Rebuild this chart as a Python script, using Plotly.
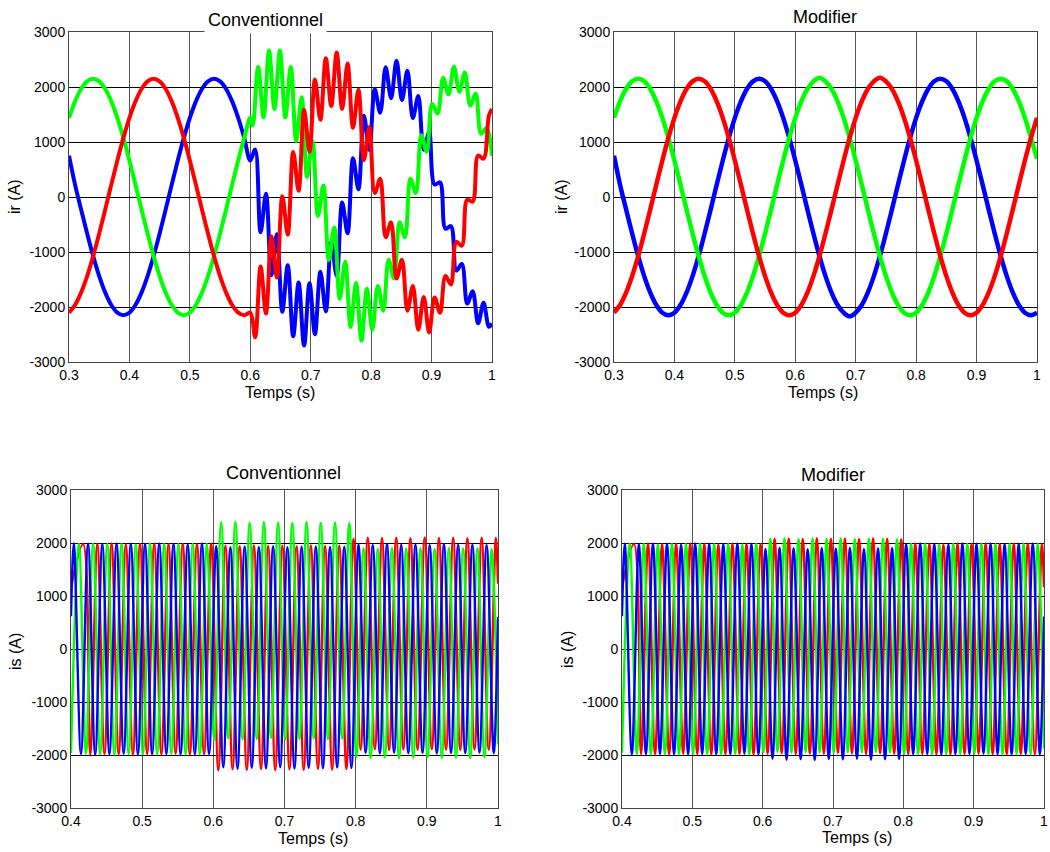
import numpy as np
import plotly.graph_objects as go

# ---------------- Rotor currents ir (top row) ----------------
# sampling instants of the smooth curves (every 10 ms from 0.30 s to 1.00 s)
ir_t = np.round(np.arange(0.30, 1.0001, 0.01), 3)

ir_mod_green = [1439, 1739, 1964, 2103,
                2150, 2103, 1964, 1739, 1439, 1075, 664, 225, -225, -664, -1075, -1439, -1739, -1964, -2103,
                -2150, -2103, -1964, -1739, -1439, -1075, -664, -225, 225, 664, 1075, 1439, 1739, 1964, 2103,
                2170, 2103, 1964, 1739, 1439, 1075, 664, 225, -225, -664, -1075, -1439, -1739, -1964, -2103,
                -2150, -2103, -1964, -1739, -1439, -1075, -664, -225, 225, 664, 1075, 1439, 1739, 1964, 2103,
                2150, 2103, 1964, 1739, 1439, 1075, 700]
ir_mod_red = [-2103, -1964, -1739, -1439, -1075, -664, -225, 225, 664, 1075, 1439, 1739, 1964, 2103,
              2150, 2103, 1964, 1739, 1439, 1075, 664, 225, -225, -664, -1075, -1439, -1739, -1964, -2103,
              -2150, -2103, -1964, -1739, -1439, -1075, -664, -225, 225, 664, 1075, 1439, 1739, 1964, 2103,
              2170, 2103, 1964, 1739, 1439, 1075, 664, 225, -225, -664, -1075, -1439, -1739, -1964, -2103,
              -2150, -2103, -1964, -1739, -1439, -1075, -664, -225, 225, 664, 1075, 1439]
ir_mod_blue = [750, 225, -225, -664, -1075, -1439, -1739, -1964, -2103,
               -2150, -2103, -1964, -1739, -1439, -1075, -664, -225, 225, 664, 1075, 1439, 1739, 1964, 2103,
               2150, 2103, 1964, 1739, 1439, 1075, 664, 225, -225, -664, -1075, -1439, -1739, -1964, -2103,
               -2170, -2103, -1964, -1739, -1439, -1075, -664, -225, 225, 664, 1075, 1439, 1739, 1964, 2103,
               2150, 2103, 1964, 1739, 1439, 1075, 664, 225, -225, -664, -1075, -1439, -1739, -1964, -2103,
               -2150, -2103]

# conventional control: identical before 0.6 s, then rippled (values at the ripple crests)
ir_t_pre = ir_t[:31]
ir_t_green_post = list(np.round(0.604 + 0.009 * np.arange(44), 3)) + [1.0]
ir_t_rb_post = list(np.round(0.608 + 0.009 * np.arange(44), 3)) + [1.0]

ir_conv_green_post = [1300, 2365, 1449, 2662, 1600, 2662, 1449, 2365, 1017, 1814, 365, 1015, -345, 211,
                      -1144, -556, -1850, -1176, -2363, -1565, -2613, -1666, -2413, -1616, -2069, -1142,
                      -1482, -461, -733, 330, 73, 1121, 822, 1692, 1519, 2166, 1863, 2366, 1913, 2265,
                      1663, 1876, 1150, 1256, 750]
ir_conv_red_post = [-2549, -1265, -2117, -714, -1465, 15, -685, 819, 114, 1586, 820, 2136, 1403, 2525,
                    1653, 2626, 1603, 2426, 1259, 1952, 672, 1271, 73, 330, -733, -461, -1482, -1142,
                    -2069, -1616, -2413, -1816, -2463, -1825, -2103, -1436, -1590, -816, -884, -49, -85,
                    755, 695, 1484, 1600]
ir_conv_blue_post = [864, -640, 59, -1424, -677, -2086, -1241, -2532, -1553, -2700, -1570, -2495, -1358,
                     -2078, -821, -1436, -98, -660, 705, 141, 1476, 856, 1958, 1532, 2360, 1797, 2478,
                     1764, 2295, 1435, 1835, 861, 1171, 227, 265, -577, -530, -1340, -1219, -1938,
                     -1713, -2297, -1924, -2359, -2300]

# ---------------- Stator currents is (bottom row): crest values of each half cycle ----------------
is_t_blue = [0.4] + list(np.round(0.404 + 0.01 * np.arange(60), 3)) + [1.0]
is_t_green = [0.4] + list(np.round(0.411 + 0.01 * np.arange(59), 3)) + [1.0]
is_t_red = [0.4] + list(np.round(0.417 + 0.01 * np.arange(59), 3)) + [1.0]

is_conv_blue = [618,
                1990, -1980, 1985, -1990, 1980, -1985, 1990, -1975, 1985, -1990, 1980, -1985, 1990, -1980, 1985, -1990, 1975, -1985, 1990, -1980,
                1940, -2230, 1920, -2260, 1935, -2240, 1925, -2250, 1940, -2230, 1920, -2255, 1930, -2240, 1935, -2250, 1925, -2235, 1930, -2245,
                1975, -1960, 1965, -1970, 1980, -1955, 1970, -1965, 1975, -1960, 1965, -1970, 1980, -1960, 1970, -1965, 1975, -1955, 1965, -1970,
                606]
is_conv_green = [-1960,
                 1985, -1975, 1990, -1985, 1980, -1990, 1985, -1980, 1975, -1985, 1990, -1980, 1985, -1975, 1980, -1990, 1985, -1980, 1990,
                 -1720, 2390, -1690, 2400, -1710, 2385, -1700, 2395, -1680, 2390, -1710, 2380, -1700, 2395, -1690, 2385, -1705, 2390, -1695, 2380,
                 -2040, 1900, -2055, 1890, -2045, 1905, -2060, 1895, -2050, 1900, -2045, 1890, -2055, 1905, -2050, 1895, -2060, 1900, -2045, 1890,
                 -1800]
is_conv_red = [1170,
               1980, -1990, 1985, -1980, 1990, -1985, 1975, -1990, 1985, -1980, 1990, -1985, 1980, -1975, 1985, -1990, 1980, -1985, 1990,
               -2290, 1950, -2270, 1940, -2280, 1955, -2265, 1945, -2285, 1950, -2270, 1940, -2280, 1955, -2260, 1945, -2275, 1950, -2265,
               2080, -1900, 2100, -1890, 2095, -1905, 2100, -1895, 2090, -1900, 2105, -1890, 2095, -1900, 2100, -1905, 2090, -1895, 2100, -1900, 2095,
               1230]

is_mod_blue = [618,
               1985, -1990, 1980, -1985, 1990, -1980, 1985, -1990, 1975, -1985, 1990, -1980, 1985, -1990, 1980, -1985, 1990, -1975, 1985, -1990,
               1890, -2070, 1910, -2090, 1900, -2080, 1885, -2095, 1905, -2075, 1895, -2085, 1910, -2070, 1890, -2090, 1900, -2080, 1905, -2075,
               1980, -1985, 1990, -1980, 1985, -1990, 1975, -1985, 1990, -1980, 1985, -1975, 1990, -1985, 1980, -1990, 1985, -1980, 1990, -1985,
               613]
is_mod_green = [-1960,
                1990, -1980, 1985, -1990, 1975, -1985, 1990, -1980, 1985, -1975, 1990, -1985, 1980, -1990, 1985, -1980, 1975, -1985, 1990,
                -1950, 2080, -1940, 2090, -1955, 2075, -1945, 2085, -1950, 2080, -1960, 2090, -1945, 2075, -1950, 2085, -1940, 2080, -1955, 2070,
                -1985, 1990, -1980, 1985, -1990, 1975, -1985, 1990, -1980, 1985, -1975, 1990, -1985, 1980, -1990, 1985, -1980, 1990, -1985, 1980,
                -1880]
is_mod_red = [1170,
              1985, -1980, 1990, -1985, 1980, -1990, 1985, -1975, 1990, -1980, 1985, -1990, 1975, -1985, 1990, -1980, 1985, -1990, 1980,
              -1975, 2080, -1965, 2085, -1980, 2075, -1970, 2090, -1975, 2080, -1960, 2085, -1970, 2075, -1980, 2090, -1965, 2080, -1975,
              2070, -1985, 1990, -1980, 1985, -1990, 1975, -1985, 1990, -1980, 1985, -1975, 1990, -1985, 1980, -1990, 1985, -1980, 1990, -1985, 1980,
              1165]

# ---------------- tick labels / text ----------------
ir_xticks = [0.3, 0.4, 0.5, 0.6, 0.7, 0.8, 0.9, 1.0]
ir_xtick_text = ["0.3", "0.4", "0.5", "0.6", "0.7", "0.8", "0.9", "1"]
is_xticks = [0.4, 0.5, 0.6, 0.7, 0.8, 0.9, 1.0]
is_xtick_text = ["0.4", "0.5", "0.6", "0.7", "0.8", "0.9", "1"]
yticks = [-3000, -2000, -1000, 0, 1000, 2000, 3000]
ytick_text = ["-3000", "-2000", "-1000", "0", "1000", "2000", "3000"]

BLUE, GREEN, RED = "#0000FF", "#00FF00", "#FF0000"
W, H = 1050, 852


def dx(a, b):
    return [a / W, b / W]


def dy(top, bottom):
    return [1 - bottom / H, 1 - top / H]


fig = go.Figure()


def add(x, y, color, width, ax):
    fig.add_trace(go.Scatter(x=list(x), y=y, mode="lines", showlegend=False, hoverinfo="skip",
                             line=dict(color=color, width=width, shape="spline", smoothing=1.0),
                             xaxis="x" + ax, yaxis="y" + ax))


# top-left: conventional
add(list(ir_t_pre) + ir_t_rb_post, ir_mod_blue[:31] + ir_conv_blue_post, BLUE, 4, "")
add(list(ir_t_pre) + ir_t_green_post, ir_mod_green[:31] + ir_conv_green_post, GREEN, 4, "")
add(list(ir_t_pre) + ir_t_rb_post, ir_mod_red[:31] + ir_conv_red_post, RED, 4, "")
# top-right: modified
add(ir_t, ir_mod_blue, BLUE, 4.5, "2")
add(ir_t, ir_mod_green, GREEN, 4.5, "2")
add(ir_t, ir_mod_red, RED, 4.5, "2")
# bottom-left
add(is_t_red, is_conv_red, RED, 2.4, "3")
add(is_t_green, is_conv_green, GREEN, 2.4, "3")
add(is_t_blue, is_conv_blue, BLUE, 2.4, "3")
# bottom-right
add(is_t_red, is_mod_red, RED, 2.4, "4")
add(is_t_green, is_mod_green, GREEN, 2.4, "4")
add(is_t_blue, is_mod_blue, BLUE, 2.4, "4")

tickfont = dict(family="Arial, Liberation Sans", size=14, color="black")
common_x = dict(showgrid=True, gridcolor="#555555", gridwidth=1, showline=True, mirror=True,
                linecolor="#444444", linewidth=1, ticks="", zeroline=False, tickfont=tickfont,
                tickmode="array", fixedrange=True, automargin=False)
common_y = dict(showgrid=True, gridcolor="#000000", gridwidth=1, showline=True, mirror=True,
                linecolor="#444444", linewidth=1, ticks="", zeroline=False, tickfont=tickfont,
                tickmode="array", tickvals=yticks, ticktext=ytick_text, range=[-3000, 3000],
                fixedrange=True, automargin=False)

layout = dict(
    width=W, height=H, margin=dict(l=0, r=0, t=0, b=0, pad=0, autoexpand=False),
    paper_bgcolor="white", plot_bgcolor="white",
    xaxis=dict(common_x, domain=dx(69, 492), anchor="y", range=[0.3, 1.0], tickvals=ir_xticks, ticktext=ir_xtick_text),
    yaxis=dict(common_y, domain=dy(32, 362), anchor="x"),
    xaxis2=dict(common_x, domain=dx(614, 1037), anchor="y2", range=[0.3, 1.0], tickvals=ir_xticks, ticktext=ir_xtick_text),
    yaxis2=dict(common_y, domain=dy(32, 362), anchor="x2"),
    xaxis3=dict(common_x, domain=dx(71, 498), anchor="y3", range=[0.4, 1.0], tickvals=is_xticks, ticktext=is_xtick_text),
    yaxis3=dict(common_y, domain=dy(490, 808), anchor="x3"),
    xaxis4=dict(common_x, domain=dx(622, 1044), anchor="y4", range=[0.4, 1.0], tickvals=is_xticks, ticktext=is_xtick_text),
    yaxis4=dict(common_y, domain=dy(490, 808), anchor="x4"),
)
fig.update_layout(**layout)

title_font = dict(family="Arial, Liberation Sans", size=18, color="black")
label_font = dict(family="Arial, Liberation Sans", size=16, color="black")


def note(text, px, py, font, angle=0, bg=None):
    kw = dict(text=text, x=px / W, y=1 - py / H, xref="paper", yref="paper", showarrow=False,
              xanchor="center", yanchor="middle", font=font, textangle=angle)
    if bg:
        kw.update(bgcolor=bg, borderpad=3)
    fig.add_annotation(**kw)


note("Conventionnel", 265, 20, title_font, bg="white")
note("Modifier", 825, 17, title_font)
note("Conventionnel", 283, 473, title_font)
note("Modifier", 833, 475, title_font)
note("Temps (s)", 280, 393, label_font)
note("Temps (s)", 823, 393, label_font)
note("Temps (s)", 313, 838, label_font)
note("Temps (s)", 857, 837, label_font)
note("ir (A)", 15, 197, label_font, angle=-90)
note("ir (A)", 562, 197, label_font, angle=-90)
note("is (A)", 15, 652, label_font, angle=-90)
note("is (A)", 567, 650, label_font, angle=-90)

fig.write_html("out.html", config={"displayModeBar": False},
               post_script="document.body.style.margin='0px';document.body.style.overflow='hidden';")
